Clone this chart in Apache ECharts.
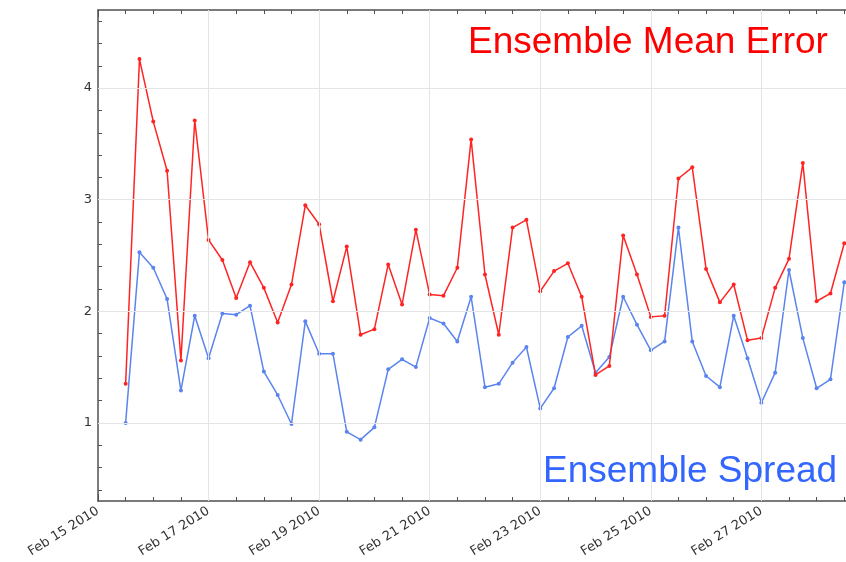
<!DOCTYPE html>
<html>
<head>
<meta charset="utf-8">
<script src="https://cdn.jsdelivr.net/npm/echarts@6/dist/echarts.min.js"></script>
<style>
  html, body { margin: 0; padding: 0; background: #ffffff; }
  #chart { width: 846px; height: 562px; }
</style>
</head>
<body>
<div id="chart"></div>
<script>
// Forecast valid times, every 6 hours
const times = [
  '2010-02-15 12:00', '2010-02-15 18:00',
  '2010-02-16 00:00', '2010-02-16 06:00', '2010-02-16 12:00', '2010-02-16 18:00',
  '2010-02-17 00:00', '2010-02-17 06:00', '2010-02-17 12:00', '2010-02-17 18:00',
  '2010-02-18 00:00', '2010-02-18 06:00', '2010-02-18 12:00', '2010-02-18 18:00',
  '2010-02-19 00:00', '2010-02-19 06:00', '2010-02-19 12:00', '2010-02-19 18:00',
  '2010-02-20 00:00', '2010-02-20 06:00', '2010-02-20 12:00', '2010-02-20 18:00',
  '2010-02-21 00:00', '2010-02-21 06:00', '2010-02-21 12:00', '2010-02-21 18:00',
  '2010-02-22 00:00', '2010-02-22 06:00', '2010-02-22 12:00', '2010-02-22 18:00',
  '2010-02-23 00:00', '2010-02-23 06:00', '2010-02-23 12:00', '2010-02-23 18:00',
  '2010-02-24 00:00', '2010-02-24 06:00', '2010-02-24 12:00', '2010-02-24 18:00',
  '2010-02-25 00:00', '2010-02-25 06:00', '2010-02-25 12:00', '2010-02-25 18:00',
  '2010-02-26 00:00', '2010-02-26 06:00', '2010-02-26 12:00', '2010-02-26 18:00',
  '2010-02-27 00:00', '2010-02-27 06:00', '2010-02-27 12:00', '2010-02-27 18:00',
  '2010-02-28 00:00', '2010-02-28 06:00', '2010-02-28 12:00'
];

// Ensemble mean error
const meanError = [
  1.35, 4.26,
  3.70, 3.26, 1.56, 3.71,
  2.64, 2.46, 2.12, 2.44,
  2.21, 1.90, 2.24, 2.95,
  2.78, 2.09, 2.58, 1.79,
  1.84, 2.42, 2.06, 2.73,
  2.15, 2.14, 2.39, 3.54,
  2.33, 1.79, 2.75, 2.82,
  2.18, 2.36, 2.43, 2.13,
  1.43, 1.51, 2.68, 2.33,
  1.95, 1.96, 3.19, 3.29,
  2.38, 2.08, 2.24, 1.74,
  1.76, 2.21, 2.47, 3.33,
  2.09, 2.16, 2.61
];

// Ensemble spread
const spread = [
  1.00, 2.53,
  2.39, 2.11, 1.29, 1.96,
  1.58, 1.98, 1.97, 2.05,
  1.46, 1.25, 0.99, 1.91,
  1.62, 1.62, 0.92, 0.85,
  0.96, 1.48, 1.57, 1.50,
  1.94, 1.89, 1.73, 2.13,
  1.32, 1.35, 1.54, 1.68,
  1.13, 1.31, 1.77, 1.87,
  1.45, 1.59, 2.13, 1.88,
  1.65, 1.73, 2.75, 1.73,
  1.42, 1.32, 1.96, 1.58,
  1.18, 1.45, 2.37, 1.76,
  1.31, 1.39, 2.26
];

// Date axis ticks and their labels
const dateTicks = ['2010-02-15 00:00', '2010-02-17 00:00', '2010-02-19 00:00', '2010-02-21 00:00',
                   '2010-02-23 00:00', '2010-02-25 00:00', '2010-02-27 00:00'];
const dateTickLabels = ['Feb 15 2010', 'Feb 17 2010', 'Feb 19 2010', 'Feb 21 2010',
                        'Feb 23 2010', 'Feb 25 2010', 'Feb 27 2010'];

// Value axis ticks and their labels
const valueTicks = [1, 2, 3, 4];
const valueTickLabels = ['1', '2', '3', '4'];

const seriesNames = ['Ensemble Mean Error', 'Ensemble Spread'];

const toMs = s => new Date(s.replace(' ', 'T')).getTime();

// visible window: the plot continues a little past the last forecast time
const xMin = toMs('2010-02-15 00:00');
const xMax = toMs('2010-02-28 12:45');
const yMin = 0.3, yMax = 4.7;

const majorX = dateTicks.map(toMs);
// half-day minor ticks between the labelled dates
const minorX = [];
for (let t = xMin; t <= xMax; t += 12 * 3600 * 1000) {
  if (!majorX.includes(t)) minorX.push(t);
}
// 0.2-step minor ticks on the value axis
const minorY = [];
for (let k = 2; k <= 23; k++) {
  if (k % 5 !== 0) minorY.push(Math.round(k * 20) / 100);
}

const RED = '#ff2424';
const BLUE = '#5a84ee';
const AXIS = '#505050';
const TICKFONT = '"DejaVu Sans", sans-serif';

function xAxisDef(pos, ticks, len, showLine, showLabel) {
  return {
    type: 'value', position: pos, min: xMin, max: xMax, scale: true,
    axisLine: { show: showLine, onZero: false, lineStyle: { color: AXIS, width: 1.5 } },
    axisTick: { show: true, inside: true, length: len, customValues: ticks,
                lineStyle: { color: AXIS, width: 1 } },
    axisLabel: showLabel ? {
      show: true, customValues: ticks, rotate: 32, margin: 9,
      color: '#333', fontSize: 13, fontFamily: TICKFONT,
      formatter: v => { const i = majorX.indexOf(v); return i >= 0 ? dateTickLabels[i] : ''; }
    } : { show: false },
    splitLine: { show: false }
  };
}
function yAxisDef(ticks, len, showLine, showLabel) {
  return {
    type: 'value', position: 'left', min: yMin, max: yMax,
    axisLine: { show: showLine, onZero: false, lineStyle: { color: AXIS, width: 1.5 } },
    axisTick: { show: true, inside: true, length: len, customValues: ticks,
                lineStyle: { color: AXIS, width: 1 } },
    axisLabel: showLabel ? {
      show: true, customValues: ticks, margin: 6,
      color: '#333', fontSize: 13, fontFamily: TICKFONT,
      formatter: v => { const i = valueTicks.indexOf(v); return i >= 0 ? valueTickLabels[i] : ''; }
    } : { show: false },
    splitLine: { show: false }
  };
}

const chart = echarts.init(document.getElementById('chart'), null, { renderer: 'canvas' });

chart.setOption({
  animation: false,
  backgroundColor: '#ffffff',
  grid: { left: 98, top: 10, right: 0, height: 491, containLabel: false },
  xAxis: [
    xAxisDef('bottom', majorX, 7, true, true),
    xAxisDef('bottom', minorX, 4, false, false),
    xAxisDef('top', majorX, 7, true, false),
    xAxisDef('top', minorX, 4, false, false)
  ],
  yAxis: [
    yAxisDef(valueTicks, 7, true, true),
    yAxisDef(minorY, 4, false, false)
  ],
  graphic: [
    { type: 'text', left: 468, top: 24, z: 100,
      style: { text: seriesNames[0], fill: '#ff0000',
               font: '37px "Liberation Sans", Arial, sans-serif' } },
    { type: 'text', left: 543, top: 453, z: 100,
      style: { text: seriesNames[1], fill: '#3366ff',
               font: '37px "Liberation Sans", Arial, sans-serif' } }
  ],
  series: [
    {
      // light reference grid
      type: 'line', name: 'grid', data: [], z: 1, silent: true,
      markLine: {
        silent: true, symbol: ['none', 'none'], animation: false,
        label: { show: false },
        lineStyle: { color: '#e4e4e4', width: 1, type: 'solid' },
        emphasis: { disabled: true },
        data: majorX.slice(1).map(t => ({ xAxis: t }))
                .concat(valueTicks.map(v => ({ yAxis: v })))
      }
    },
    {
      type: 'line', name: seriesNames[1], z: 3,
      data: times.map((t, i) => [toMs(t), spread[i]]),
      symbol: 'circle', symbolSize: 4, showSymbol: true,
      lineStyle: { color: BLUE, width: 1.5 },
      itemStyle: { color: BLUE }
    },
    {
      type: 'line', name: seriesNames[0], z: 4,
      data: times.map((t, i) => [toMs(t), meanError[i]]),
      symbol: 'circle', symbolSize: 4, showSymbol: true,
      lineStyle: { color: RED, width: 1.5 },
      itemStyle: { color: RED }
    }
  ]
});
</script>
</body>
</html>
